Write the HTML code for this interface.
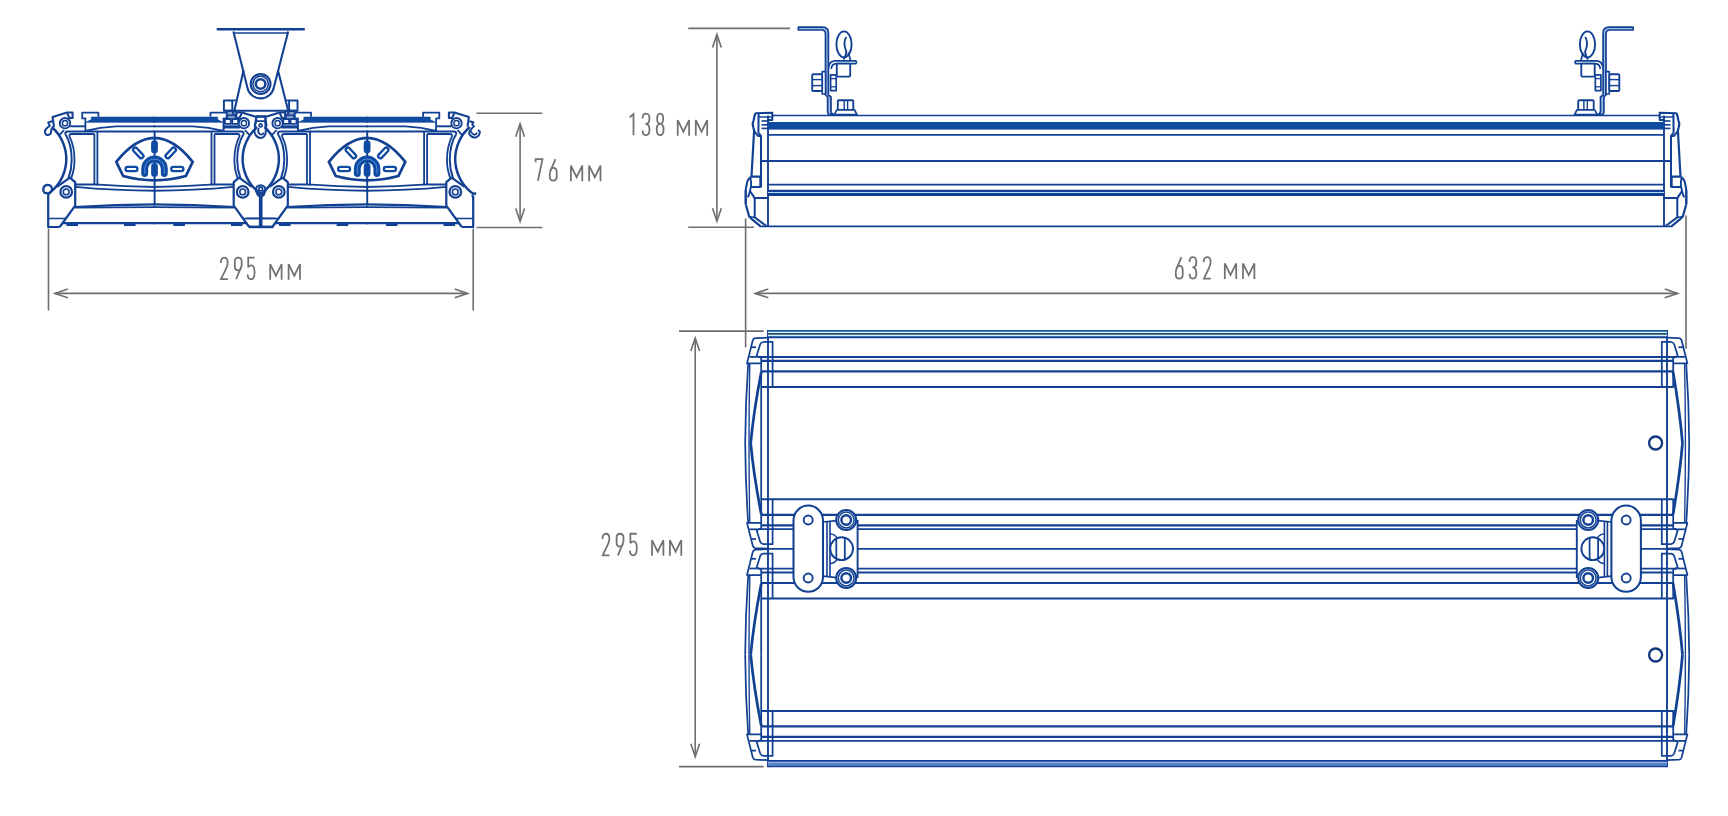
<!DOCTYPE html>
<html><head><meta charset="utf-8"><title>Dimensions</title>
<style>html,body{margin:0;padding:0;background:#fff;font-family:"Liberation Sans",sans-serif;}svg{display:block}</style>
</head><body>
<svg width="1728" height="816" viewBox="0 0 1728 816">
<rect width="1728" height="816" fill="#fff"/>
<defs>
<path id="g1" d="M0.3,3.6 L4.2,0.4 V21.3"/>
<path id="g2" d="M0,5.2 C0,1.7 1.3,0 3.45,0 C5.6,0 6.9,1.7 6.9,5 C6.9,7.2 6.3,8.8 5.3,10.8 L0.2,21.3 H7.0"/>
<path id="g3" d="M0,4.8 C0,1.6 1.3,0 3.45,0 C5.6,0 6.9,1.6 6.9,5.1 C6.9,8.6 5.5,10.2 2.9,10.2 C5.6,10.2 6.9,12 6.9,16 C6.9,19.7 5.6,21.3 3.45,21.3 C1.3,21.3 0,19.7 0,16.6"/>
<path id="g5" d="M6.9,0 H0.5 V9.4 C1.3,8.2 2.4,7.6 3.7,7.6 C6,7.6 6.9,9.6 6.9,14.4 C6.9,19.5 5.6,21.3 3.45,21.3 C1.3,21.3 0,19.8 0,16.6"/>
<path id="g6" d="M5.6,0 L0.7,11.6 C0.2,12.8 0,13.7 0,15 V17.5 C0,20 1.3,21.3 3.45,21.3 C5.6,21.3 6.9,20 6.9,17.5 V12.5 C6.9,10 5.6,8.7 3.45,8.7 C2.0,8.7 1.0,9.5 0.4,10.9"/>
<path id="g7" d="M0,3 V0 H6.9 L2.3,21.3"/>
<path id="g8" d="M3.45,10.1 C1.5,10.1 0.4,8.4 0.4,5.05 C0.4,1.7 1.5,0 3.45,0 C5.4,0 6.5,1.7 6.5,5.05 C6.5,8.4 5.4,10.1 3.45,10.1 C1.3,10.1 0,11.9 0,15.7 C0,19.5 1.3,21.3 3.45,21.3 C5.6,21.3 6.9,19.5 6.9,15.7 C6.9,11.9 5.6,10.1 3.45,10.1"/>
<path id="g9" d="M1.3,21.3 L6.2,9.7 C6.7,8.5 6.9,7.6 6.9,6.3 V3.8 C6.9,1.3 5.6,0 3.45,0 C1.3,0 0,1.3 0,3.8 V8.8 C0,11.3 1.3,12.6 3.45,12.6 C4.9,12.6 5.9,11.8 6.5,10.4"/>
<path id="gm" d="M0,21.8 V6.3 L5.7,17.8 L11.4,6.3 V21.8"/>
</defs>
<g fill="none" stroke="#6e6e6e" stroke-width="1.6">
<line x1="48.5" y1="228.5" x2="48.5" y2="310.5" />
<line x1="473.2" y1="228.5" x2="473.2" y2="310.5" />
<line x1="55.400000000000006" y1="293.4" x2="467.2" y2="293.4" />
<path d="M67.9,289.0 L54.900000000000006,293.4 L67.9,297.79999999999995" stroke-linejoin="miter" stroke-miterlimit="10"/>
<path d="M454.7,289.0 L467.7,293.4 L454.7,297.79999999999995" stroke-linejoin="miter" stroke-miterlimit="10"/>
<line x1="476.4" y1="113.3" x2="542.4" y2="113.3" />
<line x1="476.4" y1="227.5" x2="542.4" y2="227.5" />
<line x1="520.1" y1="124.2" x2="520.1" y2="221.10000000000002" />
<path d="M515.7,136.7 L520.1,123.7 L524.5,136.7" stroke-linejoin="miter" stroke-miterlimit="10"/>
<path d="M515.7,208.60000000000002 L520.1,221.60000000000002 L524.5,208.60000000000002" stroke-linejoin="miter" stroke-miterlimit="10"/>
<line x1="688.2" y1="28.4" x2="790" y2="28.4" />
<line x1="688.2" y1="227.3" x2="754" y2="227.3" />
<line x1="716.9" y1="35.0" x2="716.9" y2="220.8" />
<path d="M712.5,47.5 L716.9,34.5 L721.3,47.5" stroke-linejoin="miter" stroke-miterlimit="10"/>
<path d="M712.5,208.3 L716.9,221.3 L721.3,208.3" stroke-linejoin="miter" stroke-miterlimit="10"/>
<line x1="745.6" y1="218.4" x2="745.6" y2="347.4" />
<line x1="1686.0" y1="215.5" x2="1686.0" y2="348.7" />
<line x1="755.8000000000001" y1="293.4" x2="1677.2" y2="293.4" />
<path d="M768.3000000000001,289.0 L755.3000000000001,293.4 L768.3000000000001,297.79999999999995" stroke-linejoin="miter" stroke-miterlimit="10"/>
<path d="M1664.7,289.0 L1677.7,293.4 L1664.7,297.79999999999995" stroke-linejoin="miter" stroke-miterlimit="10"/>
<line x1="679" y1="331.1" x2="763.6" y2="331.1" />
<line x1="679" y1="766.6" x2="763.6" y2="766.6" />
<line x1="695.2" y1="338.4" x2="695.2" y2="756.1999999999999" />
<path d="M690.8000000000001,350.9 L695.2,337.9 L699.6,350.9" stroke-linejoin="miter" stroke-miterlimit="10"/>
<path d="M690.8000000000001,743.6999999999999 L695.2,756.6999999999999 L699.6,743.6999999999999" stroke-linejoin="miter" stroke-miterlimit="10"/>
</g>
<g fill="none" stroke="#707174" stroke-width="1.75" stroke-linejoin="miter" stroke-miterlimit="3">
<use href="#g2" transform="translate(220.80 257.65) scale(1 1.012)"/>
<use href="#g9" transform="translate(234.80 257.65) scale(1 1.012)"/>
<use href="#g5" transform="translate(247.70 257.65) scale(1 1.012)"/>
<use href="#gm" transform="translate(270.20 257.65) scale(1 1.012)"/>
<use href="#gm" transform="translate(288.60 257.65) scale(1 1.012)"/>
</g>
<g fill="none" stroke="#707174" stroke-width="1.75" stroke-linejoin="miter" stroke-miterlimit="3">
<use href="#g7" transform="translate(535.60 159.15) scale(1 1.012)"/>
<use href="#g6" transform="translate(549.80 159.15) scale(1 1.012)"/>
<use href="#gm" transform="translate(570.90 159.15) scale(1 1.012)"/>
<use href="#gm" transform="translate(589.10 159.15) scale(1 1.012)"/>
</g>
<g fill="none" stroke="#707174" stroke-width="1.75" stroke-linejoin="miter" stroke-miterlimit="3">
<use href="#g1" transform="translate(629.30 113.65) scale(1 1.012)"/>
<use href="#g3" transform="translate(642.60 113.65) scale(1 1.012)"/>
<use href="#g8" transform="translate(656.70 113.65) scale(1 1.012)"/>
<use href="#gm" transform="translate(677.70 113.65) scale(1 1.012)"/>
<use href="#gm" transform="translate(695.80 113.65) scale(1 1.012)"/>
</g>
<g fill="none" stroke="#707174" stroke-width="1.75" stroke-linejoin="miter" stroke-miterlimit="3">
<use href="#g6" transform="translate(1175.80 257.05) scale(1 1.012)"/>
<use href="#g3" transform="translate(1189.50 257.05) scale(1 1.012)"/>
<use href="#g2" transform="translate(1203.70 257.05) scale(1 1.012)"/>
<use href="#gm" transform="translate(1224.80 257.05) scale(1 1.012)"/>
<use href="#gm" transform="translate(1243.00 257.05) scale(1 1.012)"/>
</g>
<g fill="none" stroke="#707174" stroke-width="1.75" stroke-linejoin="miter" stroke-miterlimit="3">
<use href="#g2" transform="translate(602.50 533.75) scale(1 1.012)"/>
<use href="#g9" transform="translate(616.60 533.75) scale(1 1.012)"/>
<use href="#g5" transform="translate(629.90 533.75) scale(1 1.012)"/>
<use href="#gm" transform="translate(652.00 533.75) scale(1 1.012)"/>
<use href="#gm" transform="translate(669.90 533.75) scale(1 1.012)"/>
</g>
<g fill="none" stroke="#124193" stroke-width="1.75" stroke-linecap="butt" stroke-linejoin="round">
<line x1="768.0" y1="330.0" x2="768.0" y2="767.2" stroke-width="1.9" />
<line x1="1667.0" y1="330.0" x2="1667.0" y2="767.2" stroke-width="1.9" />
<rect x="768.0" y="330.8" width="899.0" height="6.4" fill="#d6f6fc" stroke="none"/>
<rect x="768.0" y="761.0" width="899.0" height="5.4" fill="#96b9ef" stroke="none"/>
<line x1="768.0" y1="330.8" x2="1667.0" y2="330.8" stroke-width="1.7" stroke="#1a58a0"/>
<line x1="768.0" y1="333.9" x2="1667.0" y2="333.9" stroke-width="1.77" stroke="#2a5270"/>
<line x1="768.0" y1="763.9" x2="1667.0" y2="763.9" stroke-width="1.5" stroke="#4070b6"/>
<line x1="768.0" y1="766.4" x2="1667.0" y2="766.4" stroke-width="1.84" />
<line x1="768" y1="337.3" x2="1667" y2="337.3" stroke-width="1.9" />
<line x1="757.5" y1="357.0" x2="1677" y2="357.0" stroke-width="1.77" />
<line x1="757.5" y1="529.2" x2="1677" y2="529.2" stroke-width="1.77" />
<line x1="761.2" y1="360.9" x2="1673.8" y2="360.9" stroke-width="2.18" />
<line x1="761.2" y1="525.3" x2="1673.8" y2="525.3" stroke-width="2.18" />
<line x1="761.2" y1="371.4" x2="1673.8" y2="371.4" stroke-width="2.18" />
<line x1="761.2" y1="514.8" x2="1673.8" y2="514.8" stroke-width="2.18" />
<line x1="761.2" y1="386.9" x2="1673.8" y2="386.9" stroke-width="2.04" />
<line x1="761.2" y1="499.3" x2="1673.8" y2="499.3" stroke-width="2.04" />
<line x1="768" y1="548.9" x2="1667" y2="548.9" stroke-width="1.9" />
<line x1="757.5" y1="568.6" x2="1677" y2="568.6" stroke-width="1.77" />
<line x1="757.5" y1="740.8" x2="1677" y2="740.8" stroke-width="1.77" />
<line x1="761.2" y1="572.5" x2="1673.8" y2="572.5" stroke-width="2.18" />
<line x1="761.2" y1="736.9" x2="1673.8" y2="736.9" stroke-width="2.18" />
<line x1="761.2" y1="583.0" x2="1673.8" y2="583.0" stroke-width="2.18" />
<line x1="761.2" y1="726.4" x2="1673.8" y2="726.4" stroke-width="2.18" />
<line x1="761.2" y1="598.5" x2="1673.8" y2="598.5" stroke-width="2.04" />
<line x1="761.2" y1="710.9" x2="1673.8" y2="710.9" stroke-width="2.04" />
<line x1="768" y1="760.8" x2="1667" y2="760.8" stroke-width="1.84" />
<defs><g id="tq">
<path d="M768,0.3 L755.5,0.8 Q753.6,1 752.8,3 L747,26.1 L761.2,26.1" />
<path d="M751.2,9.9 L756,9.9" />
<path d="M749.4,19.6 L757,19.6" />
<path d="M772.6,49.7 V4.7 L763.5,4.7 Q761.2,4.8 760.2,7 L756.6,18.8 L761.2,20.4" />
<path d="M748.2,26.1 Q745.4,66 745.2,105.8" />
<path d="M749.8,26.1 Q749.0,66 749.0,105.8" stroke-width="1.36" />
</g>
<g id="tqL">
<path d="M761.2,20.4 V105.8" />
<path d="M761.3,34.6 Q753.6,74 750.7,105.8" stroke-width="2.72" />
</g>
<g id="tqR">
<path d="M761.2,20.4 V49.7" />
<path d="M761.3,34.6 Q754.6,74 751.9,105.8" stroke-width="2.72" />
</g></defs>
<use href="#tq" transform="matrix(1 0 0 1 0 337.3)"/>
<use href="#tqL" transform="matrix(1 0 0 1 0 337.3)"/>
<use href="#tq" transform="matrix(-1 0 0 1 2434.4 337.3)"/>
<use href="#tqR" transform="matrix(-1 0 0 1 2434.4 337.3)"/>
<use href="#tq" transform="matrix(1 0 0 -1 0 548.9)"/>
<use href="#tqL" transform="matrix(1 0 0 -1 0 548.9)"/>
<use href="#tq" transform="matrix(-1 0 0 -1 2434.4 548.9)"/>
<use href="#tqR" transform="matrix(-1 0 0 -1 2434.4 548.9)"/>
<use href="#tq" transform="matrix(1 0 0 1 0 548.9)"/>
<use href="#tqL" transform="matrix(1 0 0 1 0 548.9)"/>
<use href="#tq" transform="matrix(-1 0 0 1 2434.4 548.9)"/>
<use href="#tqR" transform="matrix(-1 0 0 1 2434.4 548.9)"/>
<use href="#tq" transform="matrix(1 0 0 -1 0 760.5)"/>
<use href="#tqL" transform="matrix(1 0 0 -1 0 760.5)"/>
<use href="#tq" transform="matrix(-1 0 0 -1 2434.4 760.5)"/>
<use href="#tqR" transform="matrix(-1 0 0 -1 2434.4 760.5)"/>
<circle cx="1655.6" cy="443.0" r="6.5" stroke-width="2.31" stroke="#12397f"/>
<circle cx="1655.6" cy="655.0" r="6.5" stroke-width="2.31" stroke="#12397f"/>
<defs><g id="tb">
<rect x="823.5" y="517.5" width="34.1" height="62.5" fill="#fff" stroke="none"/>
<line x1="857.6" y1="520" x2="857.6" y2="578" stroke-width="1.9" />
<rect x="793.5" y="505.6" width="29.5" height="86.2" stroke-width="2.04" rx="14.75" ry="14.75" fill="#fff"/>
<circle cx="808.2" cy="520" r="4.5" stroke-width="1.9" />
<circle cx="808.2" cy="578" r="4.5" stroke-width="1.9" />
<circle cx="846.2" cy="520" r="10.0" stroke-width="2.04" fill="#fff"/>
<circle cx="846.2" cy="520" r="7.9" stroke-width="1.5" />
<circle cx="846.2" cy="520" r="4.8" stroke-width="2.45" />
<circle cx="846.2" cy="578" r="10.0" stroke-width="2.04" fill="#fff"/>
<circle cx="846.2" cy="578" r="7.9" stroke-width="1.5" />
<circle cx="846.2" cy="578" r="4.8" stroke-width="2.45" />
<line x1="827.0" y1="521.6" x2="827.0" y2="576.6" stroke-width="1.63" />
<line x1="830.0" y1="521.0" x2="830.0" y2="577.0" stroke-width="1.63" />
<path d="M823,522 L836.6,520.6" />
<path d="M823,576.2 L836.6,577.6" />
<circle cx="841.6" cy="548.7" r="11.4" stroke-width="1.9" fill="#fff"/>
<path d="M836.3,538.6 V558.8" stroke-width="1.77" />
<path d="M844.8,537.8 V559.6" stroke-width="1.77" />
<path d="M830,533.6 L833.5,534.6 Q836,536 837.4,538.2" stroke-width="1.5" />
<path d="M830,563.8 L833.5,562.8 Q836,561.4 837.4,559.2" stroke-width="1.5" />
</g></defs>
<use href="#tb"/>
<use href="#tb" transform="matrix(-1 0 0 1 2434.4 0)"/>
</g>
<g fill="none" stroke="#124193" stroke-width="1.7" stroke-linejoin="round">
<line x1="768.0" y1="115.5" x2="768.0" y2="226.2" stroke-width="1.9" />
<line x1="1664.0" y1="115.5" x2="1664.0" y2="226.2" stroke-width="1.9" />
<line x1="772.8" y1="115.5" x2="1659.2" y2="115.5" stroke-width="1.63" />
<rect x="768" y="122.0" width="896" height="7.6" fill="#0f4ba3" stroke="none"/>
<line x1="768.0" y1="134.8" x2="1664.0" y2="134.8" stroke-width="1.77" />
<line x1="760.8" y1="161.0" x2="1671.2" y2="161.0" stroke-width="1.77" />
<line x1="768.0" y1="184.6" x2="1664.0" y2="184.6" stroke-width="1.77" />
<line x1="768.0" y1="192.8" x2="1664.0" y2="192.8" stroke-width="4.0" stroke="#a6e2f2"/>
<line x1="768.0" y1="190.8" x2="1664.0" y2="190.8" stroke-width="2.2" />
<line x1="768.0" y1="194.5" x2="1664.0" y2="194.5" stroke-width="2.8" />
<line x1="759.5" y1="226.4" x2="1672.5" y2="226.4" stroke-width="1.9" />
<defs><g id="sc">
<path d="M755.2,113.2 L772.3,112.8 V120.1 H768" stroke-width="2.04" />
<path d="M758.6,117.0 H772.3" stroke-width="1.5" />
<line x1="761.6" y1="121.0" x2="768" y2="121.0" stroke-width="1.63" />
<line x1="761.6" y1="124.8" x2="768" y2="124.8" stroke-width="1.63" />
<line x1="761.6" y1="128.4" x2="768" y2="128.4" stroke-width="1.63" />
<path d="M755.2,113.2 L753.6,120.6 Q752.2,122.5 753.0,126 L754.1,130.5 L751.5,176.6" stroke-width="2.18" />
<path d="M758.6,113.2 L758.4,132.8 L761.0,136.0 V187.0" stroke-width="2.04" />
<path d="M753.9,130.5 L757.9,136.0 H761.0" stroke-width="1.9" />
<path d="M751.5,176.6 H760.4 V187.0 H750.6" stroke-width="2.18" />
<path d="M751.5,176.6 Q747.4,179 746.8,184 Q745.9,188 745.7,191" stroke-width="2.04" />
<path d="M750.0,176.8 Q752.2,184 750.4,189 Q749.4,194 747.9,197.3" stroke-width="1.9" />
<path d="M745.7,190.5 V204.5" stroke-width="2.45" />
<path d="M745.8,204.5 L749.1,216.4 L751.5,218.8 L760.3,226.1" stroke-width="2.18" />
<path d="M750.0,191 L754.7,198.1 H768" stroke-width="2.04" />
<path d="M754.7,198.1 V217.4 L766.4,226.0" stroke-width="2.04" />
<path d="M749.1,216.4 L754.7,217.4" stroke-width="1.5" />
</g></defs>
<use href="#sc"/>
<use href="#sc" transform="matrix(-1 0 0 1 2432.0 0)"/>
<defs><g id="sb">
<path d="M798.4,27.1 H822.5 Q828.4,27.1 828.4,33 V95 L831,97 V110.5 Q831,114.6 835,114.6 L829.5,114.6 Q827.6,114.6 827.6,110.5 V97 L825.5,95 V34 Q825.5,30 821.5,30 H798.4 Z" stroke-width="1.7" fill="#9db9e4"/>
<ellipse cx="844.0" cy="44.4" rx="7.6" ry="13.0" stroke-width="1.9"/>
<path d="M846.3,37 Q843,42 845.6,49.5 Q847.2,52 845.5,55.5 L843.5,59.5" stroke-width="1.85" />
<path d="M848.5,52.5 L850.5,60.5" stroke-width="1.7" />
<path d="M856.4,60.9 H834.5 Q829.3,61.4 828.6,67.5 M856.4,63.6 H836 Q831.6,64 831.2,69" stroke-width="1.7" />
<path d="M856.4,60.9 V63.6" stroke-width="1.7" />
<rect x="836.8" y="63.6" width="13.4" height="13.0" stroke-width="1.85" rx="1" fill="#fff"/>
<rect x="822.2" y="71.6" width="3.3" height="22.4" stroke-width="1.56" fill="#fff"/>
<rect x="812.2" y="74.2" width="10.0" height="16.8" stroke-width="1.85" rx="1" fill="#fff"/>
<line x1="812.2" y1="79.6" x2="822.2" y2="79.6" stroke-width="1.42" />
<line x1="812.2" y1="85.6" x2="822.2" y2="85.6" stroke-width="1.42" />
<rect x="830.6" y="74.8" width="5.6" height="15.8" stroke-width="1.7" fill="#fff"/>
<line x1="830.6" y1="78.6" x2="836.2" y2="78.6" stroke-width="1.28" />
<line x1="830.6" y1="86.8" x2="836.2" y2="86.8" stroke-width="1.28" />
<rect x="837.8" y="100.2" width="15.5" height="9.8" stroke-width="1.85" rx="1" fill="#fff"/>
<line x1="844.2" y1="100.2" x2="844.2" y2="110" stroke-width="1.42" />
<line x1="847.6" y1="100.2" x2="847.6" y2="110" stroke-width="1.42" />
<path d="M836.6,110 H854.6 L857,114.6 H834.4 Z" stroke-width="1.7" fill="#fff"/>
</g></defs>
<use href="#sb"/>
<use href="#sb" transform="matrix(-1 0 0 1 2431.5 0)"/>
</g>
<g fill="none" stroke="#124193" stroke-width="2.0" stroke-linejoin="round" stroke-linecap="butt">
<defs>
<g id="fh">
<path d="M59.7,227.0 L75.2,205.6 V182.2 L69.8,177.7 L57.0,186.8" stroke-width="2.21" />
<path d="M48.2,218.5 H65.6" stroke-width="1.56" />
<path d="M62.6,223.2 H155.45" stroke-width="2.34" />
<path d="M66.4,224.8 H78.0" stroke-width="2.47" />
<path d="M124.0,224.8 H135.6" stroke-width="2.47" />
<circle cx="66.2" cy="191.9" r="5.8" stroke-width="2.2" />
<circle cx="66.2" cy="191.9" r="2.9" stroke-width="1.6" />
<circle cx="65.0" cy="123.2" r="5.2" stroke-width="1.9" />
<circle cx="65.0" cy="123.2" r="2.6" stroke-width="1.5" />
<path d="M51.72,127.0 A42.4,42.4 0 0 1 47.54,194.2" stroke-width="2.47" />
<path d="M155.45,131.5 H68.0 Q64.2,131.6 65.6,134.5 C69.6,141 71.7,150 71.7,160 C71.7,167 70.4,173 68.4,178.4" stroke-width="1.95" />
<path d="M94.4,134 H71.5 Q68.6,134.2 69.6,136.6 C72.8,143 74.5,151 74.5,160 C74.5,167 73.2,173 71.3,177.8" stroke-width="1.82" />
<path d="M64.0,130.0 L59.6,134.9" stroke-width="1.82" />
<path d="M54.0,126.6 L52.6,117.0 L67.0,112.5 H72.6 V118.0 H69.5 L67.3,113.6" stroke-width="2.08" />
<path d="M70.2,126.3 H85.3" stroke-width="1.95" />
<path d="M85.4,131.2 V118.4 H82.2 V112.6 H98.4 V116.8" stroke-width="1.82" />
<path d="M86.2,122.3 L91.3,119.6 V117.1 H155.45 V122.3 Z" stroke-width="0.65" fill="#0f4ba3" stroke="#124193"/>
<path d="M85.3,131.0 Q100,127.2 116,126.4 H155.45" stroke-width="1.82" />
<path d="M94.4,134.0 V185.0" stroke-width="1.82" />
<path d="M97.4,131.4 V185.4" stroke-width="1.82" />
<path d="M75.2,184.4 H94.6 Q125,186.6 155.45,187.0" stroke-width="1.95" />
<path d="M75.2,186.9 Q115,190.6 155.45,190.8" stroke-width="1.95" />
<path d="M74.6,207.0 Q115,204.6 155.45,204.4" stroke-width="2.08" />
<path d="M74.6,207.6 L155.45,207.1" stroke-width="1.82" />
</g>
<g id="lg">
<path d="M116.3,161.8 Q135,138.2 154.5,137.8 Q174,138.2 192.7,161.8 L185.8,176.0 Q154.5,184.6 123.2,176.0 Z" stroke-width="2.7" stroke-linejoin="miter"/>
<path d="M154.5,143.7 V150.1" stroke-width="6.8" stroke-linecap="round" stroke="#0f4ba3"/>
<path d="M154.5,166.5 V173.6" stroke-width="6.8" stroke-linecap="round" stroke="#0f4ba3"/>
<path d="M135.3,149.8 L141.3,156.1" stroke-width="6.6" stroke-linecap="round" stroke="#0f4ba3"/>
<path d="M135.3,149.8 L141.3,156.1" stroke-width="2.0" stroke-linecap="round" stroke="#fff"/>
<path d="M173.7,149.8 L167.7,156.1" stroke-width="6.6" stroke-linecap="round" stroke="#0f4ba3"/>
<path d="M173.7,149.8 L167.7,156.1" stroke-width="2.0" stroke-linecap="round" stroke="#fff"/>
<path d="M127.7,169.0 L135.3,169.0" stroke-width="6.6" stroke-linecap="round" stroke="#0f4ba3"/>
<path d="M127.7,169.0 L135.3,169.0" stroke-width="2.0" stroke-linecap="round" stroke="#fff"/>
<path d="M173.4,169.0 L181.2,169.0" stroke-width="6.6" stroke-linecap="round" stroke="#0f4ba3"/>
<path d="M173.4,169.0 L181.2,169.0" stroke-width="2.0" stroke-linecap="round" stroke="#fff"/>
<path d="M144.7,173.6 V168.8 A9.8,9.8 0 0 1 164.3,168.8 V173.6" stroke-width="6.9" stroke-linecap="round" stroke="#0f4ba3"/>
<path d="M144.7,173.4 V168.8 A9.8,9.8 0 0 1 164.3,168.8 V173.4" stroke-width="0.9" stroke-linecap="round" stroke="#5c92e2"/>
</g>
<g id="fm">
<use href="#fh"/>
<use href="#fh" transform="matrix(-1 0 0 1 308.9 0)"/>
<path d="M154.6,131.4 V204.6" stroke-width="1.95" />
<use href="#lg"/>
</g>
</defs>
<use href="#fm"/>
<use href="#fm" transform="translate(212.6 0)"/>
<path d="M48.2,193.0 V227.0 H59.7" stroke-width="2.21" />
<path d="M473.2,196.0 V227.0 H461.8" stroke-width="2.21" />
<path d="M248.9,226.9 H273.4" stroke-width="2.6" />
<path d="M246.2,218.4 H275.6" stroke-width="1.69" />
<path d="M256.9,194.0 L260.7,197.6 L264.7,194.0" stroke-width="2.08" />
<path d="M260.7,197.4 V226.6" stroke-width="3.64" />
<path d="M255.6,116.5 H266.0" stroke-width="2.34" />
<rect x="256.3" y="116.5" width="9.2" height="4.7" stroke-width="1.82" />
<path d="M52.8,121.0 L48.2,122.4 L49.7,125.8 Q44.2,129.5 45.0,132.6 Q46.4,136.4 50.2,134.2 Q51.6,132 51.3,129.4 L54.0,126.6" stroke-width="2.08" />
<path d="M48.3,194.4 L52.0,190.4 Q52.4,186.4 49.2,185.0 Q45.4,184.2 43.6,187.4 Q42.6,190.6 44.4,192.6 Q46.2,194 47.6,192.2" stroke-width="2.21" />
<path d="M256.4,121.2 Q254,125 255.2,128.5 Q253.6,131.5 255.4,134.6 Q257.6,138 260.6,138 Q264.4,137.6 265.6,133.4 L266,128 Q265,124 265.4,121.2" stroke-width="1.95" />
<circle cx="260.6" cy="125.4" r="1.5" stroke-width="1.69" />
<path d="M258.8,128 Q257.2,131.8 259.6,134 Q262.2,135.6 264,132.6" stroke-width="1.82" />
<circle cx="260.7" cy="190.0" r="4.8" stroke-width="2.08" />
<circle cx="260.7" cy="189.0" r="1.9" stroke-width="1.69" />
<path d="M259.4,191 L259.0,194.5" stroke-width="1.56" />
<path d="M469.4,121.2 L473.4,122.2 L472.2,124.6 L474.0,126.4 L471.6,128.6 Q468.2,131.6 469.6,134.6 Q472.0,138.4 476.4,137.2 Q480.2,135.4 479.8,131.4 L478.0,130.0" stroke-width="1.95" />
<path d="M470.6,130.2 Q471.2,133.4 473.4,134.6 Q476.2,135.0 477.0,132.4" stroke-width="1.69" />
<path d="M473.2,199.0 L472.2,195.2 L474.0,193.2 L475.0,194.6 L475.6,192.4" stroke-width="1.69" />
<defs><g id="mbs">
<rect x="223.9" y="100.4" width="8.4" height="10.3" stroke-width="1.95" />
<path d="M232.3,100.4 H235.9" stroke-width="1.69" />
<rect x="226.9" y="111.7" width="5.8" height="2.4" stroke-width="1.43" />
<rect x="233.5" y="111.7" width="3.0" height="2.8" stroke-width="1.43" />
<rect x="227.5" y="115.8" width="8.0" height="2.3" stroke-width="1.43" />
<rect x="224.9" y="119.1" width="5.9" height="4.8" stroke-width="1.82" />
<rect x="232.3" y="119.1" width="5.8" height="4.8" stroke-width="1.82" />
<path d="M223.6,127.6 V131.2 M223.6,127.6 H240.0" stroke-width="1.56" />
</g></defs>
<use href="#mbs"/>
<use href="#mbs" transform="matrix(-1 0 0 1 521.4 0)"/>
<path d="M243.6,70.0 L234.4,110.8 M288.2,110.8 L277.9,70.0 M223.9,110.8 H297.6" stroke-width="2.08" />
<path d="M233.4,31.6 L247.3,87.2 A13.5,13.5 0 0 0 273.9,87.2 L288.2,31.6" stroke-width="2.08" />
<path d="M233.8,33.0 H288.0" stroke-width="1.56" />
<path d="M216.7,29.25 H304.8" stroke-width="2.7" />
<circle cx="260.6" cy="84.0" r="9.9" stroke-width="2.08" />
<circle cx="260.6" cy="84.0" r="7.7" stroke-width="1.56" />
<circle cx="260.6" cy="84.0" r="4.8" stroke-width="2.6" />
</g>
</svg>
</body></html>
